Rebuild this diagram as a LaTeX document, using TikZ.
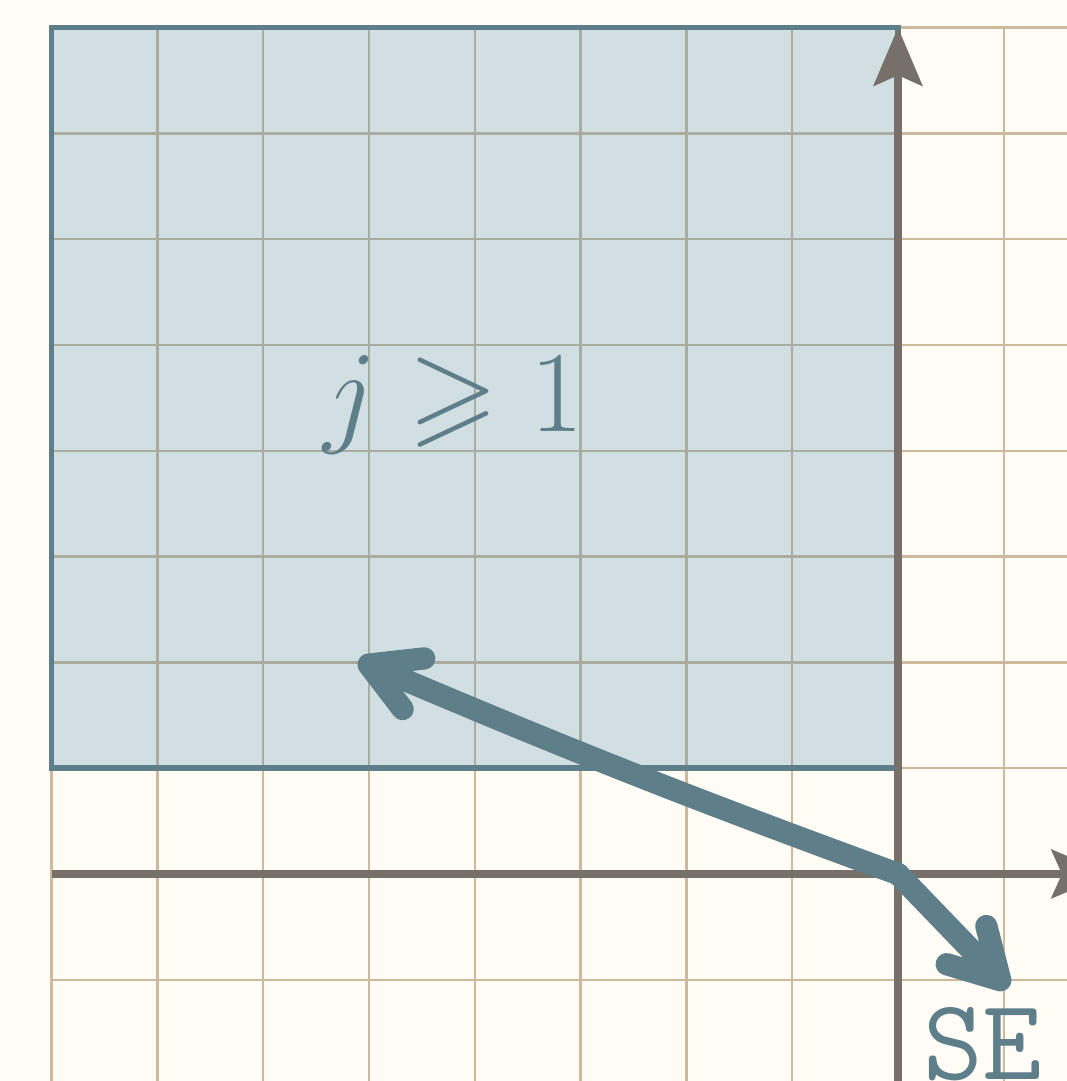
\documentclass[tikz,border=0pt]{standalone}
\usepackage{amssymb}
\usetikzlibrary{arrows.meta,bending}
\definecolor{Paper}{HTML}{FFFBF5}
\definecolor{GridTan}{HTML}{CDBA9C}
\definecolor{GridGrey}{HTML}{A9AC9F}
\definecolor{Region}{HTML}{D1DFE3}
\definecolor{Slate}{HTML}{5E7F8A}
\definecolor{Axis}{HTML}{767069}

\begin{document}
\begin{tikzpicture}[
    gridline/.style={line width=0.65pt},
    axisline/.style={draw=Axis,line width=2pt,-{Stealth[length=5.5mm,width=4.6mm,inset=1mm]}},
    vec/.style={draw=Slate,line width=6pt,line cap=round,
      -{Straight Barb[length=4.6mm,width=5.2mm,line cap=round,line join=round]}},
    lbl/.style={text=Slate,inner sep=0pt,font=\Huge,scale=1.25}]
  \useasboundingbox[fill=Paper] (-8.488,-1.957) rectangle (1.597,8.261);
  % grid and the shaded region
  \draw[gridline,GridTan] (-8,-2.5) grid (2,8);
  \fill[Region] (-8,1) rectangle (0,8);
  \begin{scope}
    \clip (-8,1) rectangle (0,8);
    \draw[gridline,GridGrey] (-8,1) grid (0,8);
  \end{scope}
  \draw[Slate,line width=1.5pt] (-8,1) rectangle (0,8);
  % axes
  \coordinate (O) at (0,0);
  \coordinate (xstart) at (-8,0);
  \coordinate (xend) at (2,0);
  \coordinate (ystart) at (0,-2.5);
  \coordinate (yend) at (0,8);
  \draw[axisline] (xstart) -- (xend);
  \draw[axisline] (ystart) -- (yend);
  % vectors
  \coordinate (v) at (-5.1,2.02);
  \coordinate (se) at (1.04,-1.08);
  \draw[vec] (O) to[bend left=1.5] (v);
  \draw[vec] (O) -- (se);
  \node[lbl,anchor=base] (jlabel) at (-4.2,4.18) {$j\geqslant1$};
  \node[lbl,anchor=base west,font=\Huge\ttfamily] (selabel) at (0.23,-1.94) {SE};
\end{tikzpicture}
\end{document}
